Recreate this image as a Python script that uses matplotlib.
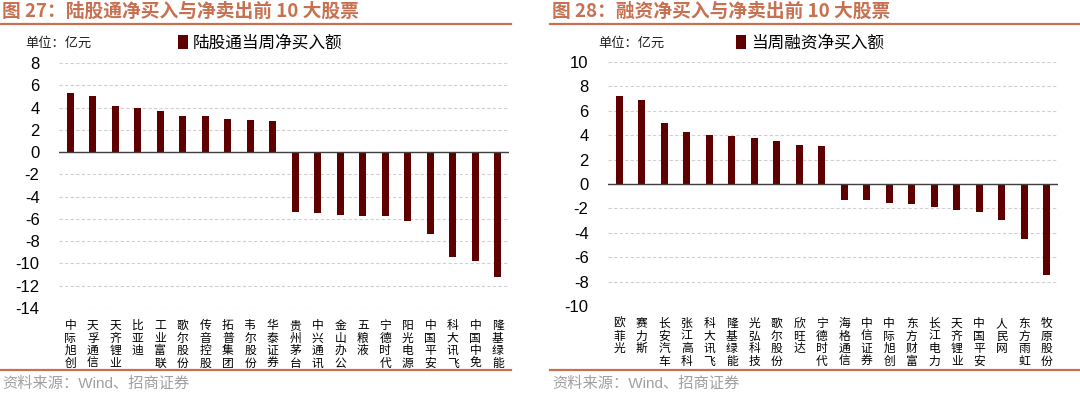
import matplotlib
matplotlib.use('Agg')
import matplotlib.pyplot as plt
from matplotlib.patches import Patch
from matplotlib.lines import Line2D

plt.rcParams['font.family'] = ['Noto Sans CJK SC', 'DejaVu Sans']

# ---- data (亿元) ----
hk_names = ['中际旭创', '天孚通信', '天齐锂业', '比亚迪', '工业富联', '歌尔股份', '传音控股',
            '拓普集团', '韦尔股份', '华泰证券', '贵州茅台', '中兴通讯', '金山办公', '五粮液',
            '宁德时代', '阳光电源', '中国平安', '科大讯飞', '中国中免', '隆基绿能']
hk_values = [5.27, 5.05, 4.13, 3.93, 3.69, 3.24, 3.24, 2.95, 2.88, 2.79,
             -5.40, -5.49, -5.61, -5.70, -5.76, -6.15, -7.34, -9.41, -9.80, -11.21]

mg_names = ['欧菲光', '赛力斯', '长安汽车', '张江高科', '科大讯飞', '隆基绿能', '光弘科技',
            '歌尔股份', '欣旺达', '宁德时代', '海格通信', '中信证券', '中际旭创', '东方财富',
            '长江电力', '天齐锂业', '中国平安', '人民网', '东方雨虹', '牧原股份']
mg_values = [7.22, 6.87, 5.01, 4.28, 4.01, 3.92, 3.73, 3.54, 3.16, 3.11,
             -1.31, -1.31, -1.56, -1.67, -1.86, -2.13, -2.32, -2.98, -4.51, -7.46]

W, H = 1080, 396
bar_color = '#5E0000'
accent = '#C8704F'
num_font = ['Liberation Sans', 'Noto Sans CJK SC']

fig = plt.figure(figsize=(W / 100, H / 100), dpi=100)


def px(x, y):
    return x / W, 1 - y / H


def draw_panel(rect, names, values, ylim, yticks, title, legend_label,
               title_x, line_x0, line_x1, unit_x, legend_x):
    ax = fig.add_axes(rect)
    xs = range(len(values))
    ax.bar(xs, values, width=0.3, color=bar_color, zorder=3)
    ax.set_xlim(-0.5, len(values) - 0.5)
    ax.set_ylim(*ylim)
    ax.set_yticks(yticks)
    ax.set_yticklabels([str(t) for t in yticks], family=num_font, fontsize=12)
    ax.set_xticks(list(xs))
    labels = ax.set_xticklabels(['\n'.join(n) for n in names], fontsize=8.5, va='top')
    for lb in labels:
        lb.set_linespacing(0.95)
    ax.tick_params(axis='both', length=0)
    ax.tick_params(axis='x', pad=8)
    ax.tick_params(axis='y', pad=14)
    for s in ax.spines.values():
        s.set_visible(False)
    ax.yaxis.grid(True, color='#D0D0D0', linestyle=(0, (3, 2)), linewidth=0.8, zorder=0)
    ax.axhline(0, color='#404040', linewidth=1.0, zorder=4)

    # title & rules
    tx, ty = px(title_x, 11)
    fig.text(tx, ty, title, color=accent, fontsize=13.5, fontweight='bold', va='center', ha='left')
    fig.add_artist(Line2D([line_x0 / W, line_x1 / W], [1 - 24 / H] * 2, color=accent, linewidth=1.6))
    fig.add_artist(Line2D([line_x0 / W, line_x1 / W], [1 - 370 / H] * 2, color=accent, linewidth=1.6))
    sx, sy = px(title_x, 384)
    fig.text(sx, sy, '资料来源：Wind、招商证券', color='#A0A0A0', fontsize=11,
             family=num_font, va='center', ha='left')

    ux, uy = px(unit_x, 43)
    fig.text(ux, uy, '单位：亿元', fontsize=9.5, va='center', ha='left', color='#202020')
    lx, ly = px(legend_x, 43)
    ax.legend(handles=[Patch(facecolor=bar_color, label=legend_label)], loc='center left',
              bbox_to_anchor=(lx, ly), bbox_transform=fig.transFigure, frameon=False,
              borderaxespad=0, borderpad=0, handlelength=0.6, handleheight=0.9,
              handletextpad=0.3, fontsize=12)
    return ax


draw_panel([59 / W, 1 - 308 / H, 450 / W, 245 / H], hk_names, hk_values,
           (-14, 8), list(range(-14, 9, 2)),
           '图 27：陆股通净买入与净卖出前 10 大股票', '陆股通当周净买入额',
           2, 0, 511, 25, 178)
draw_panel([608 / W, 1 - 306 / H, 450 / W, 244 / H], mg_names, mg_values,
           (-10, 10), list(range(-10, 11, 2)),
           '图 28：融资净买入与净卖出前 10 大股票', '当周融资净买入额',
           552, 550, 1080, 598, 736)

fig.savefig('out.png', dpi=100)
